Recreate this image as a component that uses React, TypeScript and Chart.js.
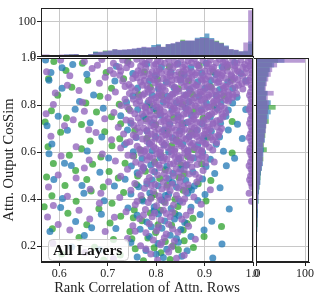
import React, { useEffect, useRef } from 'react';
import { Chart, registerables } from 'chart.js';
Chart.register(...registerables);

const FONT = "'Liberation Serif', 'DejaVu Serif', serif";
const W = 319;
const H = 301;

// ---------- scatter data ----------
const purplePts: number[][] = [
  [.603,.992],[.652,.985],[.688,.994],[.712,.978],[.731,.991],[.748,.972],[.760,.995],[.772,.983],[.786,.992],[.795,.968],[.803,.988],[.818,.978],[.826,.995],[.838,.983],[.851,.992],[.859,.971],[.866,.987],[.879,.996],[.884,.975],[.897,.989],[.905,.967],[.912,.993],[.924,.979],[.931,.995],[.943,.984],[.951,.969],[.958,.993],[.967,.978],[.975,.991],[.983,.972],[.990,.986],[.996,.996],[.996,.975],
  [.668,.955],[.705,.948],[.739,.958],[.763,.946],[.779,.957],[.792,.941],[.807,.952],[.822,.944],[.835,.958],[.847,.939],[.862,.951],[.874,.942],[.889,.958],[.901,.945],[.916,.953],[.928,.938],[.939,.957],[.947,.944],[.962,.952],[.971,.939],[.986,.955],[.997,.948],
  [.622,.925],[.695,.918],[.725,.927],[.752,.913],[.774,.924],[.789,.915],[.801,.928],[.815,.912],[.829,.922],[.843,.908],[.856,.925],[.868,.913],[.881,.929],[.893,.911],[.908,.921],[.921,.909],[.935,.926],[.944,.913],[.956,.924],[.968,.908],[.979,.921],[.995,.917],
  [.683,.893],[.744,.887],[.768,.898],[.781,.882],[.798,.894],[.811,.879],[.824,.891],[.839,.876],[.852,.896],[.864,.881],[.877,.892],[.889,.877],[.902,.889],[.915,.873],[.926,.895],[.938,.882],[.952,.888],[.963,.875],[.977,.891],[.996,.885],
  [.641,.862],[.716,.855],[.757,.861],[.776,.848],[.791,.864],[.806,.851],[.819,.862],[.833,.846],[.847,.858],[.858,.843],[.871,.861],[.884,.849],[.897,.857],[.909,.842],[.922,.859],[.934,.847],[.948,.856],[.966,.849],[.995,.855],
  [.701,.832],[.736,.825],[.764,.834],[.785,.819],[.799,.831],[.814,.823],[.828,.835],[.841,.818],[.855,.829],[.867,.816],[.879,.831],[.893,.821],[.906,.834],[.919,.817],[.931,.829],[.944,.821],[.958,.833],[.996,.826],
  [.588,.802],[.728,.798],[.759,.806],[.778,.791],[.794,.803],[.808,.789],[.821,.801],[.836,.793],[.849,.806],[.862,.788],[.874,.799],[.887,.786],[.899,.801],[.913,.792],[.927,.803],[.941,.787],[.995,.797],
  [.652,.773],[.713,.768],[.747,.776],[.771,.762],[.787,.774],[.802,.759],[.816,.771],[.829,.764],[.843,.777],[.857,.761],[.869,.773],[.882,.758],[.895,.769],[.908,.755],[.921,.771],[.936,.762],[.996,.768],
  [.694,.742],[.738,.736],[.763,.745],[.781,.731],[.796,.743],[.811,.729],[.824,.741],[.838,.733],[.851,.745],[.866,.728],[.878,.739],[.891,.726],[.905,.738],[.918,.724],[.932,.737],[.995,.739],
  [.611,.712],[.722,.705],[.754,.714],[.775,.701],[.789,.712],[.805,.698],[.819,.709],[.833,.703],[.846,.715],[.859,.697],[.873,.708],[.886,.696],[.899,.711],[.912,.698],[.926,.706],[.996,.708],
  [.676,.683],[.733,.677],[.766,.685],[.784,.671],[.798,.682],[.813,.668],[.827,.679],[.841,.672],[.854,.686],[.868,.666],[.881,.677],[.894,.669],[.908,.681],[.921,.665],[.995,.678],
  [.708,.652],[.746,.644],[.772,.655],[.791,.641],[.806,.653],[.82,.638],[.835,.649],[.848,.643],[.862,.655],[.876,.637],[.889,.648],[.903,.636],[.917,.651],[.996,.647],
  [.635,.622],[.727,.617],[.761,.625],[.779,.611],[.795,.622],[.809,.608],[.824,.619],[.839,.612],[.852,.626],[.866,.606],[.88,.618],[.894,.607],[.91,.62],[.994,.616],
  [.689,.592],[.742,.586],[.769,.595],[.787,.581],[.801,.593],[.817,.578],[.832,.589],[.846,.583],[.859,.596],[.873,.577],[.887,.588],[.902,.579],[.996,.587],
  [.716,.562],[.758,.556],[.781,.566],[.798,.551],[.814,.563],[.829,.548],[.843,.559],[.856,.553],[.871,.566],[.885,.547],[.92,.557],[.995,.558],
  [.652,.532],[.741,.527],[.774,.535],[.792,.521],[.808,.533],[.826,.519],[.841,.529],[.858,.524],[.874,.536],[.897,.521],[.996,.528],
  [.598,.502],[.727,.497],[.765,.505],[.786,.492],[.803,.503],[.821,.489],[.836,.499],[.852,.494],[.868,.506],[.889,.491],[.995,.498],
  [.702,.473],[.756,.466],[.781,.476],[.798,.462],[.815,.471],[.833,.463],[.849,.475],[.866,.461],[.884,.472],[.996,.468],
  [.664,.442],[.748,.437],[.776,.446],[.794,.432],[.812,.443],[.829,.435],[.846,.447],[.861,.431],[.912,.439],
  [.617,.412],[.725,.406],[.769,.415],[.789,.402],[.806,.413],[.824,.404],[.842,.416],[.859,.401],[.878,.409],
  [.683,.382],[.757,.376],[.784,.385],[.801,.371],[.819,.383],[.836,.374],[.855,.386],[.893,.378],
  [.641,.352],[.738,.346],[.778,.355],[.797,.341],[.815,.352],[.834,.344],[.871,.349],
  [.714,.322],[.766,.316],[.792,.325],[.81,.311],[.829,.323],[.853,.314],
  [.598,.292],[.752,.286],[.786,.295],[.805,.281],[.826,.293],[.867,.284],
  [.695,.262],[.779,.256],[.801,.265],[.821,.251],[.845,.259],
  [.741,.232],[.794,.226],[.817,.235],[.838,.221],[.881,.229],
  [.587,.212],[.768,.201],[.809,.205],[.832,.196],
  [.653,.172],[.789,.166],[.826,.175],[.858,.161],
  [.712,.146],[.803,.141],[.842,.148],
  [.574,.941],[.617,.884],[.592,.851],[.648,.812],[.573,.763],[.629,.737],[.661,.695],[.583,.667],[.604,.583],[.662,.566],[.578,.451],[.635,.489],[.686,.425],[.576,.324],[.622,.268],[.663,.315],[.588,.372],
  [.679,.969],[.724,.962],[.768,.966],[.799,.975],[.829,.968],[.855,.962],[.886,.969],[.919,.961],[.947,.972],[.979,.962],
  [.712,.933],[.758,.929],[.785,.931],[.811,.936],[.84,.927],[.869,.935],[.897,.926],[.925,.934],[.955,.929],[.984,.937],
  [.731,.902],[.776,.905],[.804,.898],[.833,.906],[.861,.901],[.895,.905],[.929,.899],[.958,.904],[.986,.897],
  [.749,.874],[.783,.867],[.814,.874],[.842,.866],[.876,.875],[.904,.866],[.94,.872],[.979,.868],
  [.772,.842],[.804,.838],[.835,.846],[.863,.84],[.893,.844],[.926,.838],[.951,.843],
  [.766,.817],[.801,.812],[.829,.818],[.856,.811],[.887,.815],[.918,.81],[.949,.816],
  [.778,.787],[.808,.782],[.838,.786],[.866,.78],[.901,.784],[.929,.779],
  [.789,.757],[.818,.752],[.845,.758],[.877,.751],[.909,.756],[.938,.749],
  [.768,.726],[.799,.72],[.826,.727],[.853,.721],[.884,.726],[.917,.719],
  [.781,.691],[.812,.686],[.84,.693],[.869,.688],[.902,.692],[.931,.687],
  [.758,.664],[.798,.659],[.826,.665],[.855,.66],[.884,.666],[.912,.663],
  [.788,.632],[.816,.629],[.846,.635],[.873,.628],[.901,.633],
  [.776,.603],[.808,.598],[.838,.604],[.866,.599],[.894,.603],
  [.793,.573],[.822,.569],[.851,.576],[.889,.571],
  [.993,.965],[.998,.935],[.992,.905],[.998,.873],[.993,.842],[.998,.812],[.992,.782],[.998,.752],[.993,.722],[.998,.692],[.992,.662],[.998,.632],[.993,.602],[.998,.572],[.992,.542],[.998,.512],[.993,.482],[.998,.452],[.992,.425],[.997,.39],
  [.771,.521],[.817,.509],[.847,.515],[.881,.505],[.79,.458],[.822,.45],[.857,.455],[.761,.391],[.809,.396],[.846,.4],[.774,.332],[.821,.338],[.862,.331],[.757,.263],[.834,.272],[.812,.215],[.779,.187],
  [.741,.981],[.777,.977],[.809,.983],[.843,.972],[.873,.98],[.908,.976],[.938,.982],[.963,.967],
  [.727,.945],[.769,.938],[.801,.944],[.829,.936],[.857,.944],[.884,.937],[.911,.943],[.937,.935],[.968,.946],
  [.761,.916],[.795,.909],[.822,.917],[.849,.911],[.874,.918],[.902,.91],[.932,.913],[.962,.915],
  [.736,.879],[.772,.884],[.805,.878],[.833,.885],[.858,.878],[.883,.884],[.909,.879],[.944,.878],[.97,.884],
  [.745,.849],[.784,.855],[.812,.847],[.84,.853],[.866,.849],[.891,.854],[.915,.848],[.94,.851],[.958,.846],
  [.753,.824],[.79,.826],[.822,.821],[.848,.824],[.874,.821],[.9,.827],[.925,.822],[.949,.828],
  [.741,.791],[.771,.797],[.801,.792],[.829,.797],[.853,.791],[.881,.796],[.908,.791],[.934,.795],
  [.756,.763],[.779,.768],[.809,.765],[.835,.769],[.863,.764],[.889,.77],[.915,.763],[.944,.767],
  [.748,.733],[.786,.738],[.816,.734],[.845,.738],[.872,.732],[.899,.737],[.925,.733],
  [.762,.702],[.796,.707],[.826,.701],[.853,.706],[.879,.702],[.907,.707],[.935,.7],
  [.753,.672],[.79,.677],[.82,.673],[.848,.677],[.875,.672],[.9,.676],[.929,.671],
  [.739,.639],[.781,.646],[.812,.642],[.842,.646],[.869,.641],[.896,.645],[.925,.64],
  [.766,.612],[.799,.615],[.831,.611],[.858,.616],[.887,.612],[.917,.609],
  [.752,.583],[.781,.583],[.81,.584],[.839,.579],[.866,.585],[.895,.581],
  [.769,.548],[.806,.545],[.836,.551],[.864,.546],[.902,.553],
];

const bluePts: number[][] = [
  [.628,.972],[.718,.965],[.781,.974],[.811,.962],[.845,.977],[.872,.96],[.903,.978],[.936,.963],[.962,.981],
  [.583,.938],[.657,.931],[.752,.934],[.798,.926],[.831,.939],[.858,.929],[.894,.936],[.923,.93],[.975,.934],
  [.715,.902],[.786,.903],[.821,.898],[.851,.906],[.886,.899],[.913,.904],[.948,.898],[.985,.903],
  [.606,.871],[.762,.872],[.805,.868],[.837,.873],[.869,.867],[.901,.871],[.931,.866],[.958,.87],
  [.671,.843],[.752,.838],[.792,.842],[.823,.837],[.861,.842],[.888,.836],[.924,.84],[.967,.833],
  [.642,.815],[.739,.812],[.783,.808],[.815,.813],[.842,.81],[.868,.814],[.904,.809],[.934,.812],[.958,.808],
  [.691,.786],[.762,.781],[.795,.785],[.833,.781],[.861,.786],[.893,.78],[.926,.785],[.949,.779],[.985,.781],
  [.598,.752],[.727,.754],[.774,.751],[.809,.756],[.846,.75],[.873,.755],[.912,.749],[.944,.752],
  [.664,.724],[.748,.722],[.792,.725],[.828,.719],[.862,.724],[.895,.72],[.933,.722],[.968,.718],
  [.617,.693],[.741,.694],[.781,.689],[.816,.694],[.849,.69],[.884,.693],[.914,.688],[.949,.694],
  [.688,.664],[.759,.662],[.799,.666],[.834,.661],[.868,.665],[.898,.66],[.931,.664],[.978,.658],
  [.585,.634],[.735,.632],[.786,.636],[.817,.631],[.855,.635],[.886,.63],[.924,.633],
  [.658,.604],[.753,.601],[.792,.605],[.826,.6],[.865,.604],[.896,.598],[.939,.603],
  [.702,.574],[.771,.572],[.809,.576],[.847,.57],[.878,.574],[.912,.569],[.962,.573],
  [.625,.543],[.749,.541],[.789,.545],[.822,.539],[.862,.544],[.903,.538],[.945,.542],
  [.684,.514],[.761,.512],[.797,.516],[.835,.51],[.876,.515],[.921,.509],
  [.589,.483],[.736,.484],[.792,.481],[.826,.486],[.861,.48],[.896,.485],
  [.714,.455],[.764,.452],[.804,.456],[.842,.451],[.879,.455],[.932,.448],
  [.651,.425],[.748,.421],[.787,.426],[.826,.42],[.865,.424],[.901,.419],
  [.693,.393],[.773,.392],[.812,.396],[.849,.39],[.886,.394],
  [.603,.364],[.742,.362],[.796,.366],[.831,.36],[.872,.365],[.951,.358],
  [.687,.335],[.761,.331],[.805,.336],[.847,.33],[.891,.334],
  [.634,.304],[.781,.302],[.818,.306],[.859,.3],[.915,.305],
  [.717,.275],[.767,.271],[.812,.276],[.851,.27],[.899,.268],
  [.652,.245],[.786,.241],[.829,.246],[.872,.24],
  [.748,.215],[.804,.211],[.846,.216],[.936,.209],
  [.683,.184],[.779,.181],[.822,.186],[.864,.18],
  [.761,.153],[.815,.151],[.853,.156],[.917,.149],
  [.572,.992],[.606,.958],[.579,.905],[.633,.782],[.575,.712],[.611,.552],[.579,.593],[.647,.458],[.607,.402],[.581,.262],[.626,.196],[.667,.278],
  [.774,.532],[.851,.528],[.781,.465],[.834,.47],[.873,.438],[.819,.415],[.796,.35],[.838,.315],[.79,.282],[.842,.232],[.8,.165],
];

const greenPts: number[][] = [
  [.589,.985],[.648,.978],[.742,.986],[.827,.963],[.889,.968],[.947,.962],
  [.614,.947],[.697,.938],[.776,.94],[.852,.933],[.918,.942],
  [.578,.912],[.659,.905],[.733,.912],[.803,.91],[.867,.903],[.955,.907],
  [.626,.876],[.708,.871],[.788,.876],[.846,.869],[.913,.878],
  [.597,.842],[.684,.837],[.764,.845],[.811,.84],[.875,.845],[.94,.838],
  [.655,.808],[.724,.803],[.787,.8],[.855,.803],[.919,.797],
  [.584,.776],[.677,.77],[.744,.782],[.801,.776],[.878,.772],
  [.615,.745],[.708,.75],[.779,.742],[.836,.747],[.897,.744],
  [.571,.728],[.646,.717],[.727,.72],[.799,.716],[.855,.72],[.957,.73],
  [.603,.684],[.694,.686],[.756,.691],[.823,.688],[.873,.684],
  [.664,.647],[.725,.656],[.781,.659],[.842,.652],[.906,.663],
  [.577,.622],[.646,.614],[.709,.627],[.768,.608],[.832,.627],[.878,.611],
  [.621,.586],[.686,.579],[.754,.583],[.81,.586],[.865,.581],[.957,.596],
  [.588,.551],[.669,.548],[.736,.552],[.797,.558],[.851,.545],[.894,.55],
  [.634,.521],[.703,.517],[.778,.518],[.819,.525],[.858,.508],
  [.574,.494],[.657,.483],[.722,.489],[.808,.487],[.847,.492],[.913,.479],
  [.612,.458],[.691,.451],[.76,.461],[.823,.459],[.868,.447],
  [.585,.414],[.666,.434],[.733,.428],[.797,.419],[.856,.437],
  [.635,.391],[.709,.382],[.771,.398],[.817,.388],[.903,.392],
  [.569,.367],[.682,.359],[.755,.353],[.809,.352],[.845,.368],
  [.618,.339],[.727,.327],[.788,.341],[.839,.338],[.876,.318],
  [.657,.291],[.705,.298],[.771,.307],[.832,.288],[.935,.283],
  [.586,.273],[.746,.262],[.799,.258],[.856,.268],
  [.641,.236],[.712,.228],[.783,.234],[.819,.219],[.899,.241],
  [.673,.195],[.757,.188],[.835,.201],[.877,.194],
  [.605,.166],[.726,.162],[.81,.171],[.846,.184],
  [.692,.141],[.774,.137],[.829,.143],
  [.762,.498],[.887,.465],[.79,.408],[.839,.399],[.753,.32],[.864,.296],[.804,.29],[.75,.231],[.858,.222],[.796,.193],
];

// ---------- histogram data ----------
const topBins = [.565,.575,.585,.595,.605,.615,.625,.635,.645,.655,.665,.675,.685,.695,.705,.715,.725,.735,.745,.755,.765,.775,.785,.795,.805,.815,.825,.835,.845,.855,.865,.875,.885,.895,.905,.915,.925,.935,.945,.955,.965,.975,.985,.995];
const topPurple = [4,4,3,3,4,4,5,6,3,2,6,10,12,14,16,20,18,19,20,22,24,27,25,26,30,27,35,37,41,44,45,45,50,52,52,48,42,37,28,20,18,14,39,132];
const topBlue = [3,3,2,3,3,4,4,5,3,2,5,12,11,13,15,18,17,18,19,21,23,25,24,32,34,26,34,36,40,43,44,44,53,55,65,52,41,36,30,19,17,13,15,42];
const topGreen = [2,3,3,2,3,3,4,5,2,2,4,12,10,16,14,19,16,17,18,20,22,24,23,25,31,25,33,35,39,47,43,43,49,51,53,47,44,38,27,18,16,12,13,35];

const rightBins = [.99,.97,.95,.93,.91,.89,.87,.85,.83,.81,.79,.77,.75,.73,.71,.69,.67,.65,.63,.61,.59,.57,.55,.53,.51,.49,.47,.45,.43,.41,.39,.37,.35,.33,.31,.29,.27,.25,.23,.21,.19,.17,.15,.13];
const rightPurple = [100,43,33,30,25,22,20,36,24,26,25,24,22,23,21,20,18,17,15,14,14,14,13,11,9,8,8,6,5,5,4,4,3,3,3,2,2,2,2,1,1,1,1,1];
const rightBlue = [58,37,29,26,22,20,18,24,21,30,26,30,26,22,20,19,17,18,14,16,15,13,14,12,10,9,9,7,6,5,5,4,4,4,3,3,3,2,2,2,2,1,1,1];
const rightGreen = [45,33,27,24,21,19,17,22,20,23,40,24,22,26,20,19,19,16,16,22,13,15,12,11,10,9,8,7,6,4,5,3,4,3,3,3,2,2,1,2,1,1,1,0];

// ---------- ticks / ranges ----------
const xTicks = [0.6, 0.7, 0.8, 0.9, 1.0];
const yTicks = [0.2, 0.4, 0.6, 0.8, 1.0];
const countTicks = [0, 100];
const xRange = [0.5625, 1.0];
const yRange = [0.132, 1.0];
const topCountMax = 138;
const rightCountMax = 108;
const labelText = 'All Layers';
const xTitle = 'Rank Correlation of Attn. Rows';
const yTitle = 'Attn. Output CosSim';

const C_PURPLE = 'rgba(148,103,189,0.8)';
const C_BLUE = 'rgba(31,119,180,0.75)';
const C_GREEN = 'rgba(44,160,44,0.75)';
const H_PURPLE = 'rgba(148,103,189,0.65)';
const H_BLUE = 'rgba(31,119,180,0.65)';
const H_GREEN = 'rgba(44,160,44,0.65)';

const GRID = '#c8c8c8';
const DARK = '#222';

const framePlugin = {
  id: 'frame',
  afterDraw(chart: any) {
    const { ctx, chartArea: a } = chart;
    ctx.save();
    ctx.strokeStyle = DARK;
    ctx.lineWidth = 1;
    const l = Math.round(a.left) + 0.5;
    const t = Math.round(a.top) + 0.5;
    const r = Math.round(a.right) - 0.5;
    const b = Math.round(a.bottom) - 0.5;
    ctx.strokeRect(l, t, r - l, b - t);
    ctx.restore();
  },
};

const labelPlugin = {
  id: 'labelBox',
  afterDatasetsDraw(chart: any) {
    const { ctx, chartArea: a } = chart;
    ctx.save();
    const x = a.left + 7;
    const y = a.bottom - 23;
    const w = 80;
    const h = 21;
    ctx.beginPath();
    ctx.roundRect(x + 0.5, y + 0.5, w, h, 4);
    ctx.fillStyle = 'rgba(255,255,255,0.8)';
    ctx.fill();
    ctx.strokeStyle = '#cccccc';
    ctx.lineWidth = 1;
    ctx.stroke();
    ctx.fillStyle = '#111';
    ctx.font = `bold 15.5px ${FONT}`;
    ctx.textBaseline = 'middle';
    ctx.textAlign = 'left';
    ctx.fillText(labelText, x + 5, y + h / 2 + 1);
    ctx.restore();
  },
};

const tickFont = { family: FONT, size: 12 };
const titleFont = { family: FONT, size: 14.5 };

function setTicks(values: number[]) {
  return (scale: any) => {
    scale.ticks = values.map((v) => ({ value: v }));
  };
}

function toPts(arr: number[][]) {
  return arr.map(([x, y]) => ({ x, y }));
}

function scatterDs(pts: number[][], color: string) {
  return {
    data: toPts(pts),
    backgroundColor: color,
    borderColor: color,
    pointRadius: 3.5,
    pointBorderWidth: 0,
    pointHoverRadius: 3.5,
    clip: 0,
  };
}

function barDs(vals: number[], bins: number[], color: string, horizontal: boolean) {
  return {
    data: bins.map((b, i) => (horizontal ? { x: vals[i], y: b } : { x: b, y: vals[i] })),
    backgroundColor: color,
    borderWidth: 0,
    barPercentage: 1,
    categoryPercentage: 1,
    inflateAmount: 0,
    grouped: false,
    clip: 0,
  };
}

export default function App() {
  const mainRef = useRef<HTMLCanvasElement>(null);
  const topRef = useRef<HTMLCanvasElement>(null);
  const rightRef = useRef<HTMLCanvasElement>(null);

  useEffect(() => {
    const common = {
      responsive: false,
      animation: false as const,
      events: [] as any[],
      plugins: { legend: { display: false }, tooltip: { enabled: false } },
    };

    const main = new Chart(mainRef.current!, {
      type: 'scatter',
      data: {
        datasets: [
          scatterDs(purplePts, C_PURPLE),
          scatterDs(bluePts, C_BLUE),
          scatterDs(greenPts, C_GREEN),
        ] as any,
      },
      options: {
        ...common,
        layout: { padding: { left: 0, top: 58, right: W - 253, bottom: 0 } },
        scales: {
          x: {
            type: 'linear',
            min: xRange[0],
            max: xRange[1],
            afterBuildTicks: setTicks(xTicks),
            afterFit: (s: any) => { s.height = H - 262; },
            ticks: { font: tickFont, color: DARK, padding: 1, maxRotation: 0, autoSkip: false, callback: (v: any) => Number(v).toFixed(1) },
            grid: { color: GRID, tickColor: DARK, tickLength: 4 },
            border: { display: true, color: DARK },
            title: { display: true, text: xTitle, font: titleFont, color: DARK, padding: { top: 0, bottom: 4 } },
          },
          y: {
            type: 'linear',
            min: yRange[0],
            max: yRange[1],
            afterBuildTicks: setTicks(yTicks),
            afterFit: (s: any) => { s.width = 41; },
            ticks: { font: tickFont, color: DARK, padding: 1, autoSkip: false, callback: (v: any) => Number(v).toFixed(1) },
            grid: { color: GRID, tickColor: DARK, tickLength: 4 },
            border: { display: true, color: DARK },
            title: { display: true, text: yTitle, font: titleFont, color: DARK, padding: { top: 0, bottom: 0 } },
          },
        },
      } as any,
      plugins: [labelPlugin, framePlugin],
    });

    const top = new Chart(topRef.current!, {
      type: 'bar',
      data: {
        datasets: [
          barDs(topPurple, topBins, H_PURPLE, false),
          barDs(topBlue, topBins, H_BLUE, false),
          barDs(topGreen, topBins, H_GREEN, false),
        ] as any,
      },
      options: {
        ...common,
        layout: { padding: { left: 0, top: 5, right: W - 253, bottom: 0 } },
        scales: {
          x: {
            type: 'linear',
            offset: false,
            min: xRange[0],
            max: xRange[1],
            afterBuildTicks: setTicks(xTicks),
            afterFit: (s: any) => { s.height = H - 56; },
            ticks: { display: false },
            grid: { color: GRID, tickColor: DARK, tickLength: 3, offset: false },
            border: { display: true, color: DARK },
          },
          y: {
            type: 'linear',
            min: 0,
            max: topCountMax,
            afterBuildTicks: setTicks(countTicks),
            afterFit: (s: any) => { s.width = 41; },
            ticks: { font: tickFont, color: DARK, padding: 1, autoSkip: false, callback: (v: any) => String(v) },
            grid: { color: GRID, tickColor: DARK, tickLength: 4 },
            border: { display: true, color: DARK },
          },
        },
      } as any,
      plugins: [framePlugin],
    });

    const right = new Chart(rightRef.current!, {
      type: 'bar',
      data: {
        datasets: [
          barDs(rightPurple, rightBins, H_PURPLE, true),
          barDs(rightBlue, rightBins, H_BLUE, true),
          barDs(rightGreen, rightBins, H_GREEN, true),
        ] as any,
      },
      options: {
        ...common,
        indexAxis: 'y',
        layout: { padding: { left: 0, top: 58, right: W - 309, bottom: 0 } },
        scales: {
          y: {
            type: 'linear',
            offset: false,
            min: yRange[0],
            max: yRange[1],
            afterBuildTicks: setTicks(yTicks),
            afterFit: (s: any) => { s.width = 256; },
            ticks: { display: false },
            grid: { color: GRID, tickColor: DARK, tickLength: 3, offset: false },
            border: { display: true, color: DARK },
          },
          x: {
            type: 'linear',
            min: 0,
            max: rightCountMax,
            afterBuildTicks: setTicks(countTicks),
            afterFit: (s: any) => { s.height = H - 262; },
            ticks: { font: tickFont, color: DARK, padding: 1, maxRotation: 0, autoSkip: false, callback: (v: any) => String(v) },
            grid: { color: GRID, tickColor: DARK, tickLength: 4 },
            border: { display: true, color: DARK },
          },
        },
      } as any,
      plugins: [framePlugin],
    });

    return () => {
      main.destroy();
      top.destroy();
      right.destroy();
    };
  }, []);

  const cs: React.CSSProperties = { position: 'absolute', left: 0, top: 0 };
  return (
    <div style={{ position: 'fixed', left: 0, top: 0, width: W, height: H, background: '#fff' }}>
      <canvas ref={topRef} width={W} height={H} style={cs} />
      <canvas ref={rightRef} width={W} height={H} style={cs} />
      <canvas ref={mainRef} width={W} height={H} style={cs} />
    </div>
  );
}
